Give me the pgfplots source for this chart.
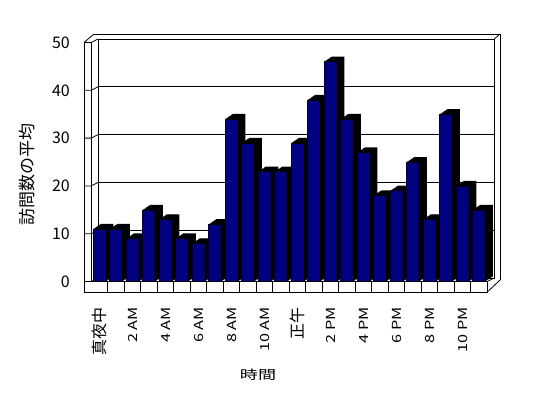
\documentclass[border=0pt]{standalone}
\usepackage{pgfplots}
\pgfplotsset{compat=1.18}
\usepackage{pgfplotstable}
\usepackage{graphicx}
\usepackage{fontspec}
\setmainfont{Noto Sans CJK JP}
\definecolor{barnavy}{RGB}{0,0,128}
\pgfplotstableread{
h v
0 11
1 11
2 9
3 15
4 13
5 9
6 8
7 12
8 34
9 29
10 23
11 23
12 29
13 38
14 46
15 34
16 27
17 18
18 19
19 25
20 13
21 35
22 20
23 15
}\datatable
\newcommand\cjkbig[1]{{\fontsize{16bp}{16bp}\selectfont #1}}
\newcommand\lat[1]{\scalebox{1.3}[1]{#1}}
\begin{document}
\begin{tikzpicture}[x=1bp,y=1bp]
\useasboundingbox (0,0) rectangle (548,398);
% back wall slab edges
\draw[line width=0.8bp] (94,364) -- (500,364) -- (500,118);
\draw[line width=0.8bp] (494.3,359) -- (500,364);
% left wall
\draw[line width=0.8bp] (84,106) -- (84,355.5) -- (91.3,355.5) -- (91.3,116.5);
\draw[line width=0.8bp] (84,355.5) -- (94,364);
% floor
\draw[line width=0.8bp] (84,106) -- (487.3,106) -- (487.3,116.5) -- (84,116.5);
\draw[line width=0.8bp] (487.3,116.5) -- (494.3,120);
\draw[line width=0.8bp] (487.3,106) -- (500,118);
\foreach \k in {1,...,23}{
  \draw[line width=0.8bp] ({91.3+16.5*\k},106) -- ({91.3+16.5*\k},116.5);
}
% ticks on the left wall
\foreach \v in {0,10,...,50}{
  \draw[line width=0.8bp] (84,{116.5+4.78*\v}) -- (91.3,{116.5+4.78*\v}) -- (98,{120+4.78*\v});
}
% back wall
\begin{axis}[
  at={(98bp,120bp)}, anchor=south west,
  scale only axis, width=396.3bp, height=239bp,
  xmin=0, xmax=1, ymin=0, ymax=50,
  xtick=\empty, ytick={10,20,30,40}, yticklabel=\empty,
  major tick length=0pt,
  ymajorgrids, grid style={black, line width=0.8bp},
  axis line style={black, line width=0.8bp},
]
\end{axis}
% bars
\begin{axis}[
  at={(91.3bp,116.5bp)}, anchor=south west,
  scale only axis, width=396bp, height=239bp,
  xmin=-0.5, xmax=23.5, ymin=0, ymax=50,
  clip=false,
  axis line style={draw=none},
  major tick length=0pt,
  xtick={0,2,...,22},
  xticklabels={\cjkbig{真夜中}, \lat{2 AM}, \lat{4 AM}, \lat{6 AM}, \lat{8 AM}, \lat{10 AM}, \cjkbig{正午}, \lat{2 PM}, \lat{4 PM}, \lat{6 PM}, \lat{8 PM}, \lat{10 PM}},
  ytick={0,10,...,50},
  /pgf/number format/assume math mode=true,
  yticklabel style={font=\fontsize{16bp}{16bp}\selectfont, anchor=east, inner sep=0pt, xshift=-21.3bp},
  xticklabel style={font=\fontsize{12.5bp}{12.5bp}\selectfont, yshift=-25.5bp, rotate=90, anchor=east, inner sep=0pt},
  xlabel={\scalebox{1.45}[1]{時間}},
  ylabel={訪問数の平均},
  every axis x label/.style={at={(rel axis cs:0.421,0)}, anchor=center, yshift=-93.5bp, font=\fontsize{12.5bp}{12.5bp}\selectfont},
  every axis y label/.style={at={(rel axis cs:0,0.5)}, xshift=-64bp, yshift=-12bp, rotate=90, anchor=center, font=\fontsize{17bp}{17bp}\selectfont},
]
\addplot[ybar, bar width=13bp, bar shift=0.9125bp, yshift=0.625bp, fill=black, draw=none] table[x=h,y=v]{\datatable};
\addplot[ybar, bar width=13bp, bar shift=1.825bp, yshift=1.25bp, fill=black, draw=none] table[x=h,y=v]{\datatable};
\addplot[ybar, bar width=13bp, bar shift=2.7375bp, yshift=1.875bp, fill=black, draw=none] table[x=h,y=v]{\datatable};
\addplot[ybar, bar width=13bp, bar shift=3.65bp, yshift=2.5bp, fill=black, draw=none] table[x=h,y=v]{\datatable};
\addplot[ybar, bar width=13bp, bar shift=4.5625bp, yshift=3.125bp, fill=black, draw=none] table[x=h,y=v]{\datatable};
\addplot[ybar, bar width=13bp, bar shift=5.475bp, yshift=3.75bp, fill=black, draw=none] table[x=h,y=v]{\datatable};
\addplot[ybar, bar width=13bp, bar shift=6.3875bp, yshift=4.375bp, fill=black, draw=none] table[x=h,y=v]{\datatable};
\addplot[ybar, bar width=13bp, bar shift=7.3bp, yshift=5bp, fill=black, draw=none] table[x=h,y=v]{\datatable};
\addplot[ybar, bar width=13bp, bar shift=0bp, fill=barnavy, draw=black, line width=0.4bp] table[x=h,y=v]{\datatable};
\end{axis}
\end{tikzpicture}
\end{document}
